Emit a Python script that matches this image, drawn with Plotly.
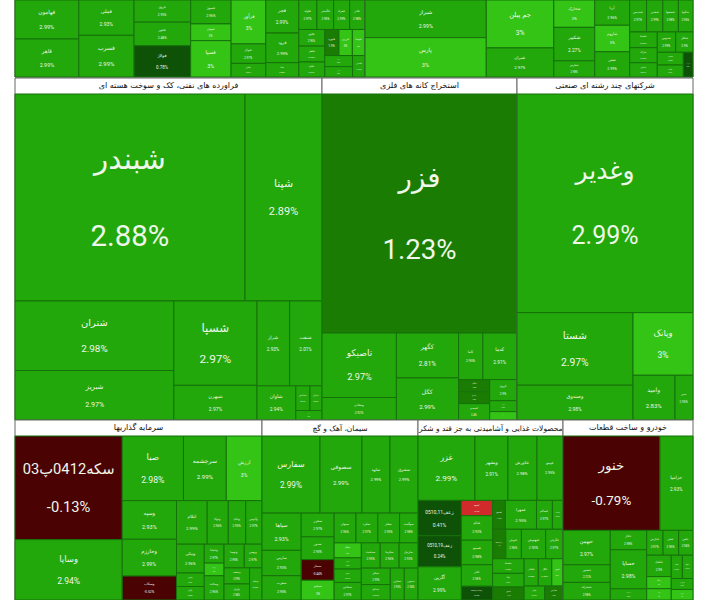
import math
import plotly.graph_objects as go

# ---------------- data (listed in the reference's visual order) ----------------
# top row (headers are cropped in the reference)
metals_title = "فلزات اساسی"
metals_names = ["فهامون", "قاهر", "فملی", "فسرب", "فروی", "فخوز", "فولاژ", "فسوژ", "فجهان", "فسپا",
                "فرآور", "فنوال", "فخاس", "فجر", "فرود", "فاما", "فلوله", "فگستر", "فمراد", "فاذر",
                "فالوم", "فباهنر", "فکاوه", "فنورد", "فزرین", "فتوسا", "فافزا", "فاسمین", "فغدیر"]
metals_pct = [2.99, 2.99, 2.93, 2.99, 2.95, 2.48, 0.78, 2.96, 3.0, 3.0,
              3.0, 2.97, 2.99, 2.99, 2.99, 2.98, 2.97, 2.95, 2.99, 2.98,
              2.96, 2.99, 2.97, 1.9, 3.0, 3.0, 2.99, 2.95, 2.9]
metals_size = [2420, 2360, 1900, 2240, 1220, 1300, 1720, 940, 660, 1430,
               1480, 660, 460, 1060, 950, 460, 520, 480, 460, 440,
               420, 400, 380, 360, 340, 320, 300, 280, 260]

chem_title = "محصولات شیمیایی"
chem_names = ["شیراز", "پارس", "جم پیلن", "شیران", "شخارک", "شکبیر", "شفارس", "آریا", "شاروم", "شفن",
              "شپدیس", "شغدیر", "شصفها", "شگویا", "شسینا", "شاراک", "شملی", "شدوص", "شکلر", "شبصیر",
              "شلعاب", "شوینده"]
chem_pct = [2.99, 3.0, 3.0, 2.97, 3.0, 2.27, 2.98, 2.96, 3.0, 2.99,
            2.97, 2.99, 2.98, 2.96, 2.99, 2.95, 2.97, 2.99, 2.9, 2.98,
            2.97, 0.5]
chem_size = [4400, 4600, 3120, 1890, 1080, 1320, 640, 850, 890, 850,
             520, 500, 480, 450, 420, 400, 380, 360, 340, 320,
             300, 230]

# middle row
oil_title = "فراورده های نفتی، کک و سوخت هسته ای"
oil_names = ["شبندر", "شپنا", "شتران", "شبریز", "شسپا", "شبهرن", "شراز", "شنفت", "شاوان", "شدامین", "شرانل", "نفت"]
oil_pct = [2.88, 2.89, 2.98, 2.97, 2.97, 2.97, 2.93, 2.01, 2.94, 2.9, 2.96, 2.95]
oil_size = [47840, 16020, 11100, 7900, 7060, 2900, 2780, 2760, 1330, 350, 300, 250]

mine_title = "استخراج کانه های فلزی"
mine_names = ["فزر", "تاصیکو", "ومعادن", "کگهر", "کگل", "کاما", "کدما", "کمنگنز", "کرمان", "کسعدی", "کروی", "کنور", "کپرور"]
mine_pct = [1.23, 2.97, 2.92, 2.81, 2.99, 2.95, 2.91, 1.52, 1.48, 2.4, 2.9, 2.96, 3.0]
mine_size = [46800, 4820, 1680, 2810, 2630, 1130, 1600, 380, 370, 510, 580, 300, 230]

multi_title = "شرکتهای چند رشته ای صنعتی"
multi_names = ["وغدیر", "شستا", "وصندوق", "وپانک", "وامید", "سیر"]
multi_pct = [2.99, 2.97, 2.98, 3.0, 2.83, 2.95]
multi_size = [38720, 8470, 4060, 3780, 1890, 810]

# bottom row (cropped at the bottom in the reference)
inv_title = "سرمایه گذاریها"
inv_names = ["سکه0412پ03", "وساپا", "صبا", "سرچشمه", "ارزش", "وسپه", "وخارزم", "وسکاب", "اتکام", "وتوکا",
             "وبانک", "وآتوس", "ونیکی", "وسین", "وکادو", "ولساپا", "ورنا", "وسالت", "وتوصا", "وبهمن",
             "وصنعت", "وایران", "ومعلم"]
inv_pct = [-0.13, 2.94, 2.98, 2.99, 3.0, 2.93, 2.99, -0.52, 2.99, 2.96,
           2.95, 2.97, 2.96, 2.9, 2.98, 2.97, 3.0, 2.96, 2.95, 2.97,
           2.99, 2.94, 2.98]
inv_size = [11120, 6480, 3960, 2770, 2310, 2100, 2000, 1300, 1340, 920,
            760, 710, 800, 375, 375, 375, 250, 480, 480, 420,
            410, 410, 400]

cem_title = "سیمان، آهک و گچ"
cem_names = ["سفارس", "سصوفی", "ساوه", "سشرق", "سپاها", "سارس", "سغرب", "سخزر", "سدور", "سمتاز",
             "سبجنو", "سبهان", "سکرد", "سفار", "سهگمت", "سیلام", "سقاین", "سنیر", "سخاش", "سدشت",
             "سکرما", "ساربیل", "سباقر", "سیدکو", "سمازن", "سنوین"]
cem_pct = [2.99, 2.99, 2.99, 2.99, 2.93, 2.93, 2.95, 2.97, 2.93, -0.44,
           3.0, 2.96, 2.97, 2.95, 2.98, 3.0, 2.96, 2.94, 2.97, 2.95,
           2.96, 2.93, 2.99, 2.97, 2.95, 2.94]
cem_size = [4410, 3190, 2130, 2130, 1440, 980, 940, 770, 740, 670,
            640, 640, 640, 640, 540, 400, 300, 360, 470, 470,
            470, 470, 470, 440, 440, 430]

food_title = "محصولات غذایی و آشامیدنی به جز قند و شکر"
food_names = ["غزر", "وبشهر", "غکورش", "غپینو", "زعف0510,11", "زعف0510,19", "آگرین", "غشهد", "غدام", "غمینو",
              "غاذر", "زعف0510,12", "غصینو", "غمهرا", "غسالم", "غدشت", "زعف0510,15", "غنوش", "غبهنوش", "غگرجی",
              "غشصفا", "غپاک", "غبشهر", "غشاذر", "غگل", "غچین", "غپآذر", "غفارس"]
food_pct = [2.99, 2.91, 2.98, 2.95, 0.41, 0.24, 2.99, -2.6, 2.93, 2.98,
            2.96, 0.45, 1.6, 2.95, 2.97, 2.94, 1.1, 2.96, 2.93, 2.97,
            2.95, 2.9, 1.4, 2.98, 2.96, 3.0, 2.94, 1.2]
food_size = [3590, 2080, 1830, 1640, 1500, 1320, 1410, 470, 750, 750,
             660, 420, 360, 880, 450, 300, 380, 450, 700, 500,
             450, 420, 400, 380, 360, 300, 280, 250]

auto_title = "خودرو و ساخت قطعات"
auto_names = ["خنور", "خزامیا", "خبهمن", "خمحور", "خمحرکه", "خکار", "خساپا", "خریخت", "خپارس", "خفنر",
              "خاهن", "خکمک", "خرینگ", "خمهر", "خلنت", "ختوقا", "خچرخش", "خشرق"]
auto_pct = [-0.79, 2.93, 2.97, 2.72, 2.98, 2.98, 2.98, 2.96, 2.97, 2.95,
            2.94, 2.9, 3.0, 3.0, 2.96, 2.97, 2.93, 3.0]
auto_size = [9220, 3140, 1640, 840, 840, 710, 1430, 410, 410, 390,
             360, 530, 300, 280, 260, 250, 240, 230]

# ---------------- styling helpers ----------------
W, H = 709, 600
ML, MR = 15, 16
PW = W - ML - MR
RATIO = 1.618
HEADER = 16


def dx(px0, px1):
    return [(px0 - ML) / PW, (px1 - ML) / PW]


def dy(py0, py1):
    return [1 - py1 / H, 1 - py0 / H]


def tile_color(p):
    if p >= 3.0:
        return "#33c416"
    if p >= 2.0:
        return "#22a80a"
    if p >= 1.0:
        return "#1a7c03"
    if p >= 0.0:
        return "#0d5206"
    if p > -1.0:
        return "#4b0202"
    return "#d02a2a"


def fmt(p):
    return f"{p:g}%"


def tile_min_sides(vals, w, h, ratio):
    """Mirror of the squarify tiling only to pick a label size per tile
    (the tiles themselves are drawn by plotly)."""
    out = [0.0] * len(vals)
    x0, y0, x1, y1 = 0.0, 0.0, float(w), float(h)
    value = float(sum(vals))
    i0 = i1 = 0
    n = len(vals)
    while i0 < n:
        ddx, ddy = x1 - x0, y1 - y0
        s = vals[i1]
        i1 += 1
        mn = mx = s
        alpha = max(ddy / ddx, ddx / ddy) / (value * ratio)
        beta = s * s * alpha
        min_ratio = max(mx / beta, beta / mn)
        while i1 < n:
            v = vals[i1]
            s2 = s + v
            mn2, mx2 = min(mn, v), max(mx, v)
            beta = s2 * s2 * alpha
            nr = max(mx2 / beta, beta / mn2)
            if nr > min_ratio:
                break
            s, mn, mx, min_ratio = s2, mn2, mx2, nr
            i1 += 1
        if ddx < ddy:
            rh = ddy * s / value
            for k in range(i0, i1):
                out[k] = min(ddx * vals[k] / s, rh)
            y0 += rh
        else:
            rw = ddx * s / value
            for k in range(i0, i1):
                out[k] = min(ddy * vals[k] / s, rw)
            x0 += rw
        value -= s
        i0 = i1
    return out


LEAF_FONT = "Roboto, DejaVu Sans, sans-serif"

sectors = [
    (metals_title, metals_names, metals_pct, metals_size, (15, 365), (0, 77), False),
    (chem_title, chem_names, chem_pct, chem_size, (365, 693), (0, 77), False),
    (oil_title, oil_names, oil_pct, oil_size, (15, 322), (78, 420), True),
    (mine_title, mine_names, mine_pct, mine_size, (322, 517), (78, 420), True),
    (multi_title, multi_names, multi_pct, multi_size, (517, 693), (78, 420), True),
    (inv_title, inv_names, inv_pct, inv_size, (15, 262), (420, 600), True),
    (cem_title, cem_names, cem_pct, cem_size, (262, 418), (420, 600), True),
    (food_title, food_names, food_pct, food_size, (418, 563), (420, 600), True),
    (auto_title, auto_names, auto_pct, auto_size, (563, 693), (420, 600), True),
]

fig = go.Figure()
for title, names, pcts, sizes, (px0, px1), (py0, py1), header in sectors:
    pad_t = HEADER if header else 0
    sides = tile_min_sides(sizes, px1 - px0, (py1 - py0) - pad_t, RATIO)
    labels = [title] + names
    parents = [""] + [title] * len(names)
    values = [0] + sizes
    text = [title if header else ""] + [f"{n}<br><br>{fmt(p)}" for n, p in zip(names, pcts)]
    colors = ["white"] + [tile_color(p) for p in pcts]
    line_colors = ["#666666"] + ["#15700a"] * len(names)
    sizes_f = [12] + [max(3.0, min(30.0, 0.142 * m)) for m in sides]
    fcolors = ["black"] + ["#eef7ea"] * len(names)
    fig.add_trace(go.Treemap(
        labels=labels,
        parents=parents,
        values=values,
        branchvalues="remainder",
        text=text,
        textinfo="text",
        textposition="middle center",
        textfont=dict(size=sizes_f, color=fcolors, family=LEAF_FONT),
        outsidetextfont=dict(size=12, color="#111111", family="DejaVu Sans, sans-serif"),
        marker=dict(colors=colors, line=dict(color=line_colors, width=1),
                    pad=dict(t=pad_t, l=0, r=0, b=0)),
        tiling=dict(pad=0, squarifyratio=RATIO),
        pathbar=dict(visible=False),
        sort=False,
        domain=dict(x=dx(px0, px1), y=dy(py0, py1)),
        hoverinfo="skip",
    ))

fig.update_layout(
    width=W, height=H,
    margin=dict(l=ML, r=MR, t=0, b=0),
    paper_bgcolor="white",
    showlegend=False,
)

fig.write_html(
    "out.html",
    config={"displayModeBar": False},
    post_script="document.body.style.margin='0';document.body.style.overflow='hidden';",
)
